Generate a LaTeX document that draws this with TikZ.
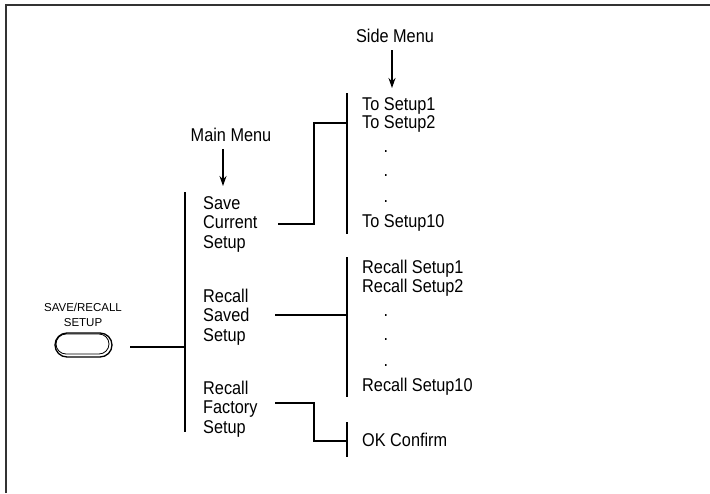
\documentclass[tikz,border=0pt]{standalone}
\usepackage{fontspec}
\setmainfont{Liberation Sans}
\newfontfamily\narrowfont[FakeStretch=0.88]{Liberation Sans}
\usetikzlibrary{arrows.meta}

\tikzset{
  wire/.style={line width=2pt},
  pointer/.style={line width=1.2pt, -{Stealth[length=10pt, width=7pt]}, shorten <=8pt},
  heading/.style={anchor=base, inner sep=0pt, font=\narrowfont\fontsize{18.5}{19.5}\selectfont},
  mainitem/.style={anchor=base west, inner sep=0pt, align=left, font=\narrowfont\fontsize{18.5}{19.5}\selectfont},
  sideitem/.style={anchor=base west, inner sep=0pt, align=left, font=\narrowfont\fontsize{18.5}{15}\selectfont},
  gap/.style={anchor=base, inner sep=0pt, font=\narrowfont\fontsize{18.5}{15}\selectfont},
  keycap/.style={align=center, inner sep=0pt, font=\fontsize{11.5}{15}\selectfont},
}

\begin{document}
\begin{tikzpicture}[x=1pt, y=-1pt]
    \useasboundingbox (0,0) rectangle (710,493);

    % frame
    \draw[line width=1.6pt, black!80] (6,493) -- (6,5) -- (710,5);

    % front panel button
    \node[keycap] (keylbl) at (83,315) {SAVE/RECALL\\SETUP};
    \draw[line width=1.3pt, rounded corners=12pt] (55,333) rectangle (112,357);
    \draw[line width=0.8pt, rounded corners=10pt] (56,334) rectangle (109,354);
    \coordinate (button) at (112,345);

    % headings
    \node[heading] (mainlbl) at (231,141) {Main Menu};
    \node[heading] (sidelbl) at (395,42) {Side Menu};
    \coordinate (maintip) at (223,186);
    \coordinate (sidetip) at (392,88);
    \draw[pointer] (mainlbl.south -| maintip) -- (maintip);
    \draw[pointer] (sidelbl.south -| sidetip) -- (sidetip);

    % main menu (base = last line)
    \node[mainitem] (save) at (203,248) {Save\\Current\\Setup};
    \node[mainitem] (recall) at (203,341) {Recall\\Saved\\Setup};
    \node[mainitem] (factory) at (203,433) {Recall\\Factory\\Setup};
    \coordinate (mainjoin) at (185,347);
    \draw[wire] (185,192) -- (185,432);
    \draw[wire, shorten <=18pt] (button |- mainjoin) -- (mainjoin);

    % side menus
    \node[sideitem] (to12) at (362,128) {To Setup1\\To Setup2};
    \node[gap] (d1) at (386,152) {.};
    \node[gap] (d2) at (386,176) {.};
    \node[gap] (d3) at (386,202) {.};
    \node[sideitem] (to10) at (362,227) {To Setup10};

    \node[sideitem] (rc12) at (362,292) {Recall Setup1\\Recall Setup2};
    \node[gap] (d4) at (386,316) {.};
    \node[gap] (d5) at (386,340) {.};
    \node[gap] (d6) at (386,366) {.};
    \node[sideitem] (rc10) at (362,391) {Recall Setup10};

    \node[sideitem] (ok) at (362,446) {OK Confirm};

    \draw[wire] (347,93) -- (347,234);
    \draw[wire] (347,257) -- (347,397);
    \draw[wire] (347,422) -- (347,457);

    % connectors to the side menus
    \coordinate (s1) at (278,224);
    \coordinate (j1) at (347,123);
    \coordinate (s2) at (275,315);
    \coordinate (j2) at (347,315);
    \coordinate (s3) at (275,403);
    \coordinate (j3) at (347,441);
    \draw[wire] (s1) -- ++(36,0) |- (j1);
    \draw[wire] (s2) -- (j2);
    \draw[wire] (s3) -- ++(39,0) |- (j3);
\end{tikzpicture}
\end{document}
